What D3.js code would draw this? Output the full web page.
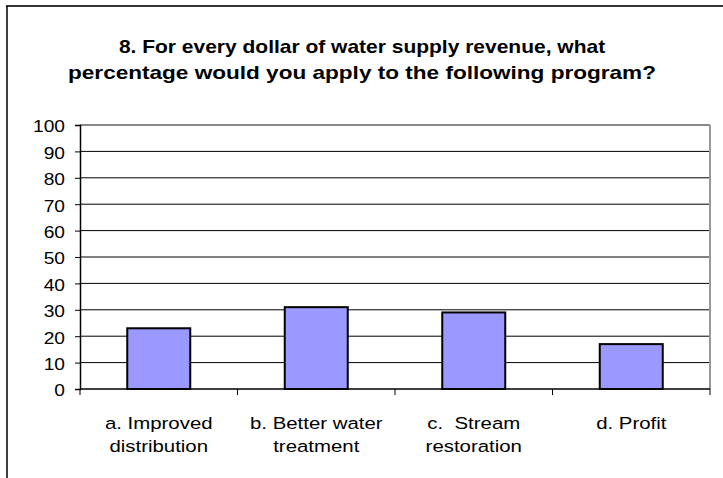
<!DOCTYPE html>
<html lang="en">
  <head>
    <meta charset="utf-8"/>
    <title>Water supply revenue survey</title>
    <script src="https://cdn.jsdelivr.net/npm/d3@7"></script>
    <style>
      body { margin: 0; background: #fff; }
      text { font-family: "Liberation Sans", Arial, sans-serif; fill: #000; white-space: pre; }
    </style>
  </head>
  <body>
    <div id="chart"></div>
    <script type="text/javascript">

      // chart data
      var categories = [
        ["a. Improved", "distribution"],
        ["b. Better water", "treatment"],
        ["c.  Stream", "restoration"],
        ["d. Profit"]
      ];
      var values = [23, 31, 29, 17];
      var yTicks = [0, 10, 20, 30, 40, 50, 60, 70, 80, 90, 100];
      var titleLines = [
        "8. For every dollar of water supply revenue, what",
        "percentage would you apply to the following program?"
      ];

      var W = 723, H = 478;
      // plot area
      var plotLeft = 80, plotRight = 710, plotTop = 125, plotBottom = 389;

      var svg = d3.select("#chart")
        .append("svg")
        .attr("width", W)
        .attr("height", H)
      ;

      // outer chart border (only top and left visible)
      svg.append("line")
        .attr("x1", 6).attr("y1", 6).attr("x2", W).attr("y2", 6)
        .attr("stroke", "#333").attr("stroke-width", 2);
      svg.append("line")
        .attr("x1", 7).attr("y1", 6).attr("x2", 7).attr("y2", H)
        .attr("stroke", "#000").attr("stroke-width", 1.5);

      // title (each line stretched to the width it has in the original)
      var titleStretch = [1.2, 1.29];
      svg.selectAll(".title")
        .data(titleLines)
        .enter()
        .append("text")
        .attr("class", "title")
        .attr("text-anchor", "middle")
        .attr("transform", function(d, i) {
          return "translate(362," + (53 + i * 26) + ") scale(" + titleStretch[i] + ",1)";
        })
        .style("font-weight", "bold")
        .style("font-size", "17.5px")
        .text(function(d) { return d; })
      ;

      var xb = d3.scaleBand()
        .domain(d3.range(categories.length))
        .range([plotLeft, plotRight])
      ;
      var y = d3.scaleLinear()
        .domain([0, 100])
        .range([plotBottom, plotTop])
      ;

      // gridlines
      svg.append("g")
        .selectAll("line")
        .data(yTicks.slice(1))
        .enter()
        .append("line")
        .attr("x1", plotLeft)
        .attr("x2", plotRight)
        .attr("y1", function(d) { return y(d); })
        .attr("y2", function(d) { return y(d); })
        .attr("stroke", function(d) { return d == 100 ? "#888" : "#000"; })
        .attr("stroke-width", function(d) { return d == 100 ? 2 : 1; })
      ;
      // right edge of plot area
      svg.append("line")
        .attr("x1", plotRight).attr("x2", plotRight)
        .attr("y1", plotTop).attr("y2", plotBottom)
        .attr("stroke", "#999").attr("stroke-width", 2);

      // bars: 40% of each category band, centred
      svg.append("g")
        .selectAll("rect")
        .data(values)
        .enter()
        .append("rect")
        .attr("x", function(d, i) { return xb(i) + xb.bandwidth() * 0.3; })
        .attr("width", xb.bandwidth() * 0.4)
        .attr("y", function(d) { return y(d); })
        .attr("height", function(d) { return y(0) - y(d); })
        .attr("fill", "#9999ff")
        .attr("stroke", "#000")
        .attr("stroke-width", 2)
      ;

      // y axis
      var yAxis = svg.append("g")
        .attr("transform", "translate(" + plotLeft + ",0)")
        .call(d3.axisLeft(y).tickValues(yTicks).tickSize(5).tickPadding(10))
      ;
      yAxis.select(".domain").attr("stroke", "#000").attr("stroke-width", 1.5);
      yAxis.selectAll(".tick text")
        .style("font-size", "17px")
        .attr("dy", "0.4em")
      ;
      yAxis.selectAll(".tick text").each(function() {
        // stretch labels a little in x, keeping the right edge in place
        var t = d3.select(this);
        var tx = +t.attr("x");
        t.attr("transform", "translate(" + tx + ",0) scale(1.13,1) translate(" + (-tx) + ",0)");
      });

      // x axis with ticks at band boundaries
      var xAxis = svg.append("g")
        .attr("transform", "translate(0," + plotBottom + ")")
      ;
      xAxis.append("line")
        .attr("x1", plotLeft).attr("x2", plotRight)
        .attr("stroke", "#000").attr("stroke-width", 1.5);
      xAxis.selectAll(".xtick")
        .data(d3.range(categories.length + 1))
        .enter()
        .append("line")
        .attr("class", "xtick")
        .attr("x1", function(d) { return d < categories.length ? xb(d) : plotRight; })
        .attr("x2", function(d) { return d < categories.length ? xb(d) : plotRight; })
        .attr("y1", 0)
        .attr("y2", 6)
        .attr("stroke", "#000")
      ;

      // category labels
      var labels = svg.append("g")
        .selectAll("text")
        .data(categories)
        .enter()
        .append("text")
        .attr("text-anchor", "middle")
        .attr("transform", function(d, i) {
          return "translate(" + (xb(i) + xb.bandwidth() / 2) + ",429) scale(1.2,1)";
        })
        .style("font-size", "17px")
      ;
      labels.selectAll("tspan")
        .data(function(d) { return d; })
        .enter()
        .append("tspan")
        .attr("x", 0)
        .attr("y", function(d, i) { return i * 23; })
        .text(function(d) { return d; })
      ;
    </script>
  </body>
</html>
